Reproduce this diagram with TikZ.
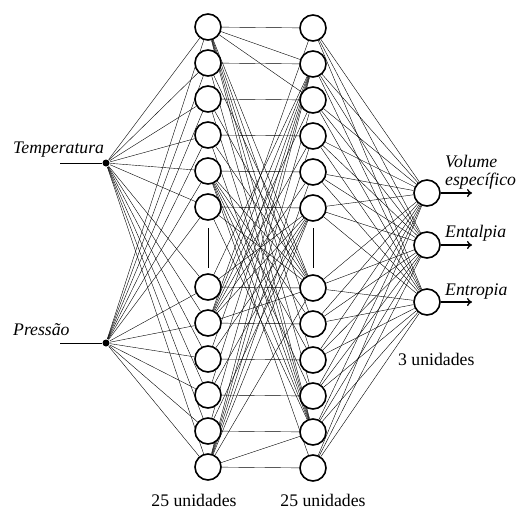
\documentclass[tikz,border=0pt]{standalone}
\usepackage{fontspec}
\setmainfont{Liberation Serif}
\usetikzlibrary{arrows.meta}
\pgfdeclarelayer{bg}
\pgfsetlayers{bg,main}
\begin{document}
\begin{tikzpicture}[x=1pt,y=-1pt,line width=1.6pt,
  neuron/.style={circle,draw,fill=white,minimum size=26pt,inner sep=0pt},
  inpt/.style={circle,fill=black,minimum size=7pt,inner sep=0pt},
  lbl/.style={font=\fontsize{17.7}{20}\selectfont\itshape,anchor=base west,inner sep=0pt},
  cnt/.style={font=\fontsize{17.7}{20}\selectfont,anchor=base,inner sep=0pt},
  outarrow/.style={-{To[length=5pt,width=8pt]}}]
\useasboundingbox (0,0) rectangle (518,511);
% hidden layers
\foreach \k in {1,...,6} {
  \pgfmathsetmacro\yy{27+36*(\k-1)}
  \node[neuron] (a\k) at (208,\yy) {};
  \node[neuron] (b\k) at (313,\yy+1) {};
}
\foreach \k in {7,...,12} {
  \pgfmathsetmacro\yy{287+36*(\k-7)}
  \node[neuron] (a\k) at (208,\yy) {};
  \node[neuron] (b\k) at (313,\yy+1) {};
}
% outputs
\node[neuron] (o1) at (427,193) {};
\node[neuron] (o2) at (427,245) {};
\node[neuron] (o3) at (427,302) {};
% inputs
\node[inpt] (t) at (106,163) {};
\node[inpt] (p) at (106,343) {};
\coordinate (ti) at (60,163);
\coordinate (pi) at (60,343);
% gap marks
\coordinate (g1a) at (208,228); \coordinate (g1b) at (208,268);
\coordinate (g2a) at (313,228); \coordinate (g2b) at (313,268);
\draw[line width=1pt] (g1a) -- (g1b);
\draw[line width=1pt] (g2a) -- (g2b);
% output arrows
\coordinate (e1) at (472,193);
\coordinate (e2) at (472,245);
\coordinate (e3) at (472,302);
\draw[outarrow,line width=1.3pt] (o1) -- (e1);
\draw[outarrow,line width=1.3pt] (o2) -- (e2);
\draw[outarrow,line width=1.3pt] (o3) -- (e3);
\begin{pgfonlayer}{bg}
  \draw (ti) -- (t);
  \draw (pi) -- (p);
  \foreach \k in {1,...,12} {
    \draw (t) -- (a\k);
    \draw (p) -- (a\k);
    \draw (b\k) -- (o1);
    \draw (b\k) -- (o2);
    \draw (b\k) -- (o3);
    \draw (a\k) -- (b\k);
  }
  \foreach \i/\j in {1/2,1/3,1/7,1/8,1/9,1/10,1/11,
                     5/7,5/8,5/9,5/10,5/11,5/12,
                     8/1,8/2,8/3,8/4,8/5,8/6,8/7,
                     12/2,12/3,12/4,12/5,12/6,12/7,12/11,
                     7/2,9/2,10/2,11/2,
                     7/6,9/6,10/6,11/6,
                     2/7,3/7,4/7,6/7,
                     2/11,3/11,4/11,6/11} {
    \draw (a\i) -- (b\j);
  }
\end{pgfonlayer}
% labels
\node[lbl] (lt) at (13,153) {Temperatura};
\node[lbl] (lp) at (13,335) {Pressão};
\node[lbl] (lv) at (445,167) {Volume};
\node[lbl] (le) at (445,185) {específico};
\node[lbl] (lh) at (445,237) {Entalpia};
\node[lbl] (ls) at (445,295) {Entropia};
\node[cnt,anchor=base west] (u3) at (398,365) {3 unidades};
\node[cnt] (u1) at (194,506) {25 unidades};
\node[cnt] (u2) at (323,506) {25 unidades};
\end{tikzpicture}
\end{document}
